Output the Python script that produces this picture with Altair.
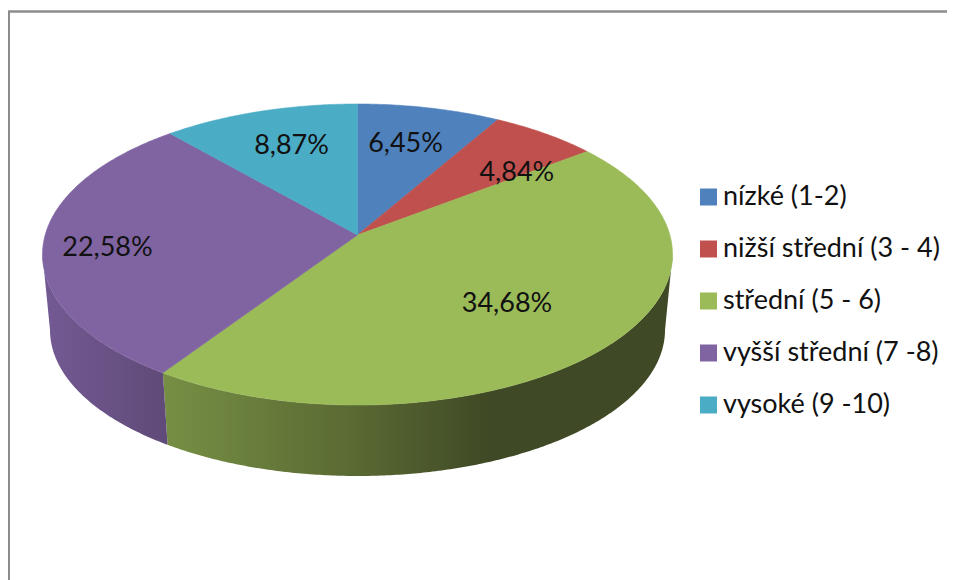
import math
import altair as alt
import pandas as pd

NAMES = ["nízké (1-2)", "nižší střední (3 - 4)", "střední (5 - 6)", "vyšší střední (7 -8)", "vysoké (9 -10)"]
VALUES = [6.45, 4.84, 34.68, 22.58, 8.87]
COLORS = ["#4F81BD", "#C0504D", "#9BBB59", "#8064A2", "#4BACC6"]
LABELS = ["6,45%", "4,84%", "34,68%", "22,58%", "8,87%"]

# Layout of the perspective pie (page pixels minus the 8px margin)
W, H = 939, 572
CX, CY, RX, RY = 349.5, 246.5, 315.0, 150.5   # top disc
BCY, BRX, BRY = 322.0, 307.5, 146.0           # bottom disc
TILT = 0.13                                    # how far the apex shifts up in the disc
LABEL_POS = [(0.70, -4, 1), (0.82, 3, 23), (0.60, 5, 5), (0.80, 1, 5), (0.70, 5, 0)]


def project(theta, r=1.0):
    x, y = r * math.sin(theta), r * math.cos(theta)
    d = 1 + TILT * y
    return x * math.sqrt(1 - TILT ** 2) / d, (y + TILT) / d


total = sum(VALUES)
edges = [0.0]
for v in VALUES:
    edges.append(edges[-1] + v / total * 2 * math.pi)

faces, sides, labels = [], [], []
for k, name in enumerate(NAMES):
    a, b = edges[k], edges[k + 1]
    n = max(2, int((b - a) / 0.01))
    pts = [(CX, CY - RY * TILT)]
    for j in range(n + 1):
        X, Y = project(a + (b - a) * j / n)
        pts.append((CX + RX * X, CY - RY * Y))
    pts.append(pts[0])
    for i, (px, py) in enumerate(pts):
        faces.append({"slice": name, "i": i, "px": px, "py": py})

    ta = math.atan2(*project(a)) % (2 * math.pi)
    tb = math.atan2(*project(b)) % (2 * math.pi)
    if b >= 2 * math.pi - 1e-9:
        tb = 2 * math.pi
    lo, hi = max(ta, math.pi / 2), min(tb, 3 * math.pi / 2)
    if hi > lo:
        m = max(2, int((hi - lo) / 0.01))
        ts = [lo + (hi - lo) * j / m for j in range(m + 1)]
        ring = [(CX + RX * math.sin(t), CY - RY * math.cos(t)) for t in ts]
        ring += [(CX + BRX * math.sin(t), BCY - BRY * math.cos(t)) for t in reversed(ts)]
        ring.append(ring[0])
        for i, (px, py) in enumerate(ring):
            sides.append({"slice": name, "i": i, "px": px, "py": py})

    r, ox, oy = LABEL_POS[k]
    X, Y = project((a + b) / 2, r)
    labels.append({"text": LABELS[k], "px": CX + RX * X + ox, "py": CY - RY * Y + oy})

faces = pd.DataFrame(faces)
sides = pd.DataFrame(sides)
labels = pd.DataFrame(labels)

xs = alt.X("px:Q", scale=alt.Scale(domain=[0, W], range=[0, W]), axis=None)
ys = alt.Y("py:Q", scale=alt.Scale(domain=[0, H], range=[0, H]), axis=None)
color_scale = alt.Scale(domain=NAMES, range=COLORS)


def grad(stops):
    return alt.Gradient(
        gradient="linear", x1=0, x2=1, y1=0, y2=0,
        stops=[alt.GradientStop(offset=o, color=c) for o, c in stops],
    )


green_side = alt.Chart(sides[sides["slice"] == NAMES[2]]).mark_line(
    fill=grad([(0, "#768F44"), (0.37, "#5A6A33"), (0.64, "#3F4925"), (1, "#3F4925")]),
    strokeWidth=0,
).encode(x=xs, y=ys, order=alt.Order("i:Q"))

purple_side = alt.Chart(sides[sides["slice"] == NAMES[3]]).mark_line(
    fill=grad([(0, "#745A93"), (1, "#5F4A78")]),
    strokeWidth=0,
).encode(x=xs, y=ys, order=alt.Order("i:Q"))

top = alt.Chart(faces).mark_line(strokeWidth=0.6).encode(
    x=xs,
    y=ys,
    order=alt.Order("i:Q"),
    stroke=alt.Stroke("slice:N", scale=color_scale, legend=None),
    fill=alt.Fill(
        "slice:N",
        scale=color_scale,
        legend=alt.Legend(
            title=None,
            orient="none",
            legendX=687,
            legendY=175.5,
            symbolType="square",
            symbolSize=289,
            symbolStrokeWidth=0,
            labelFont="Lato",
            labelFontSize=27,
            labelColor="#111111",
            labelOffset=1,
            labelLimit=300,
            rowPadding=24,
            symbolOpacity=1,
        ),
    ),
)

text = alt.Chart(labels).mark_text(font="Lato", fontSize=27, color="#111111").encode(
    x=xs, y=ys, text="text:N"
)

frame_left = alt.Chart(labels.head(1)).mark_rule(color="#8C8C8C", strokeWidth=2).encode(
    x=alt.value(1), y=alt.value(3), y2=alt.value(H)
)
frame_top = alt.Chart(labels.head(1)).mark_rule(color="#8C8C8C", strokeWidth=2.4).encode(
    x=alt.value(0), x2=alt.value(W), y=alt.value(3.5)
)

chart = (
    alt.layer(green_side, purple_side, top, text, frame_left, frame_top)
    .properties(width=W, height=H, padding=0, autosize=alt.AutoSizeParams(type="none"), background="white")
    .configure_view(strokeWidth=0)
)
chart.save("out.html", embed_options={"renderer": "svg", "actions": False})
